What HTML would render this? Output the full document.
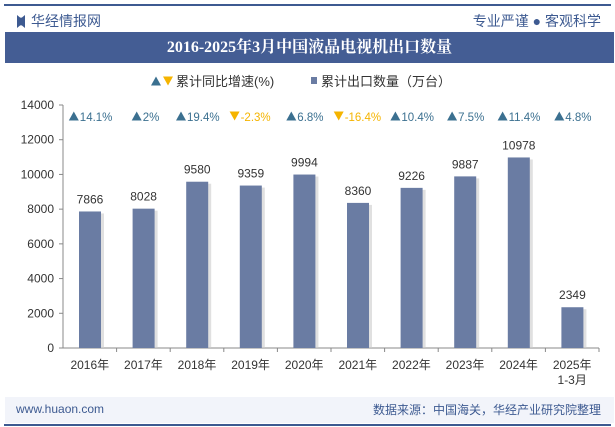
<!DOCTYPE html>
<html><head><meta charset="utf-8"><style>
body{margin:0;width:615px;height:427px;overflow:hidden;background:#fff;font-family:"Liberation Sans","Noto Sans CJK SC",sans-serif;position:relative}
.a{position:absolute}
</style></head><body>
<div class="a" style="left:4px;top:4px;width:607px;height:1.5px;background:#3d5a91"></div>
<div class="a" style="left:17px;top:11px;font-size:14px;color:#3d5a91"><span style="display:inline-block;width:8px;height:13px;background:#3d5a91;vertical-align:-2px;margin-right:6px;clip-path:polygon(0 0,40% 20%,60% 20%,100% 0,100% 100%,60% 80%,40% 80%,0 100%)"></span>华经情报网</div>
<div class="a" style="right:14px;top:11px;font-size:14px;color:#3d5a91">专业严谨 ● 客观科学</div>
<div class="a" style="left:5px;top:32px;width:609px;height:31px;background:#445d94;color:#fff;font-weight:bold;font-size:16px;text-align:center;line-height:31px;font-family:'Liberation Serif','Noto Serif CJK SC',serif">2016-2025年3月中国液晶电视机出口数量</div>
<svg class="a" style="left:0;top:0" width="615" height="427" id="c"></svg>
<div class="a" style="left:5px;top:397px;width:609px;height:26px;background:#f2f4fa"></div>
<div class="a" style="left:4px;top:424px;width:607px;height:1.5px;background:#3d5a91"></div>
<div class="a" style="left:16px;top:402px;font-size:12px;color:#3d5a91">www.huaon.com</div>
<div class="a" style="right:14px;top:401px;font-size:12px;color:#3d5a91">数据来源：中国海关，华经产业研究院整理</div>
<script>
const cats=["2016年","2017年","2018年","2019年","2020年","2021年","2022年","2023年","2024年","2025年|1-3月"];
const values=[7866,8028,9580,9359,9994,8360,9226,9887,10978,2349];
const growth=[14.1,2,19.4,-2.3,6.8,-16.4,10.4,7.5,11.4,4.8];
const growthLabels=["14.1%","2%","19.4%","-2.3%","6.8%","-16.4%","10.4%","7.5%","11.4%","4.8%"];
const yTicks=[0,2000,4000,6000,8000,10000,12000,14000];
const s=document.getElementById('c');const N='http://www.w3.org/2000/svg';
const x0=63,x1=599,y0=348,yTop=105,yMax=14000;
const y=v=>y0-v/yMax*(y0-yTop);
const bw=(x1-x0)/cats.length;const cx=i=>x0+bw*(i+0.5);
function el(t,a,txt){const e=document.createElementNS(N,t);for(const k in a)e.setAttribute(k,a[k]);if(txt!=null)e.textContent=txt;s.appendChild(e);return e;}
function tri(x,yc,up){const h=9,w=10;return up?`${x},${yc+h/2} ${x+w},${yc+h/2} ${x+w/2},${yc-h/2}`:`${x},${yc-h/2} ${x+w},${yc-h/2} ${x+w/2},${yc+h/2}`;}
let e;
e=el('polygon',{points:tri(151,81,true),fill:'#3b7090'});
e=el('polygon',{points:tri(163,81,false),fill:'#f5b400'});
e=el('text',{x:176,y:86,'font-size':13,fill:'#333'},'累计同比增速(%)');
e=el('rect',{x:311,y:77,width:6,height:7,fill:'#6a7ca3'});
e=el('text',{x:321,y:86,'font-size':13,fill:'#333'},'累计出口数量（万台）');
e=el('line',{x1:x0,y1:yTop,x2:x0,y2:y0,stroke:'#888'});
e=el('line',{x1:x0,y1:y0,x2:x1,y2:y0,stroke:'#888'});
yTicks.forEach(t=>{e=el('line',{x1:x0-4,y1:y(t),x2:x0,y2:y(t),stroke:'#888'});
e=el('text',{x:x0-9,y:y(t)+4,'font-size':12,fill:'#333','text-anchor':'end'},t);});
cats.forEach((c,i)=>{
e=el('line',{x1:x0+bw*(i+1),y1:y0,x2:x0+bw*(i+1),y2:y0+4,stroke:'#888'});
const bx=cx(i)-bw/2+16,w=22;
e=el('rect',{x:bx+3,y:y(values[i])+2,width:w,height:y0-y(values[i])-2,fill:'#ccc',opacity:0.6});
e=el('rect',{x:bx,y:y(values[i]),width:w,height:y0-y(values[i]),fill:'#6a7ca3'});
e=el('text',{x:bx+w/2,y:y(values[i])-8,'font-size':12,fill:'#333','text-anchor':'middle'},values[i]);
const parts=c.split('|');
parts.forEach((p,j)=>{e=el('text',{x:cx(i),y:369+j*15,'font-size':12,fill:'#333','text-anchor':'middle'},p);});
const up=growth[i]>=0;const col=up?'#3b7090':'#f5b400';
const tw=growthLabels[i].length*6.2+11;const sx=cx(i)-tw/2;
e=el('polygon',{points:tri(sx,116,up),fill:col});
e=el('text',{x:sx+11,y:121,'font-size':11.5,fill:col},growthLabels[i]);
});
</script>
</body></html>
